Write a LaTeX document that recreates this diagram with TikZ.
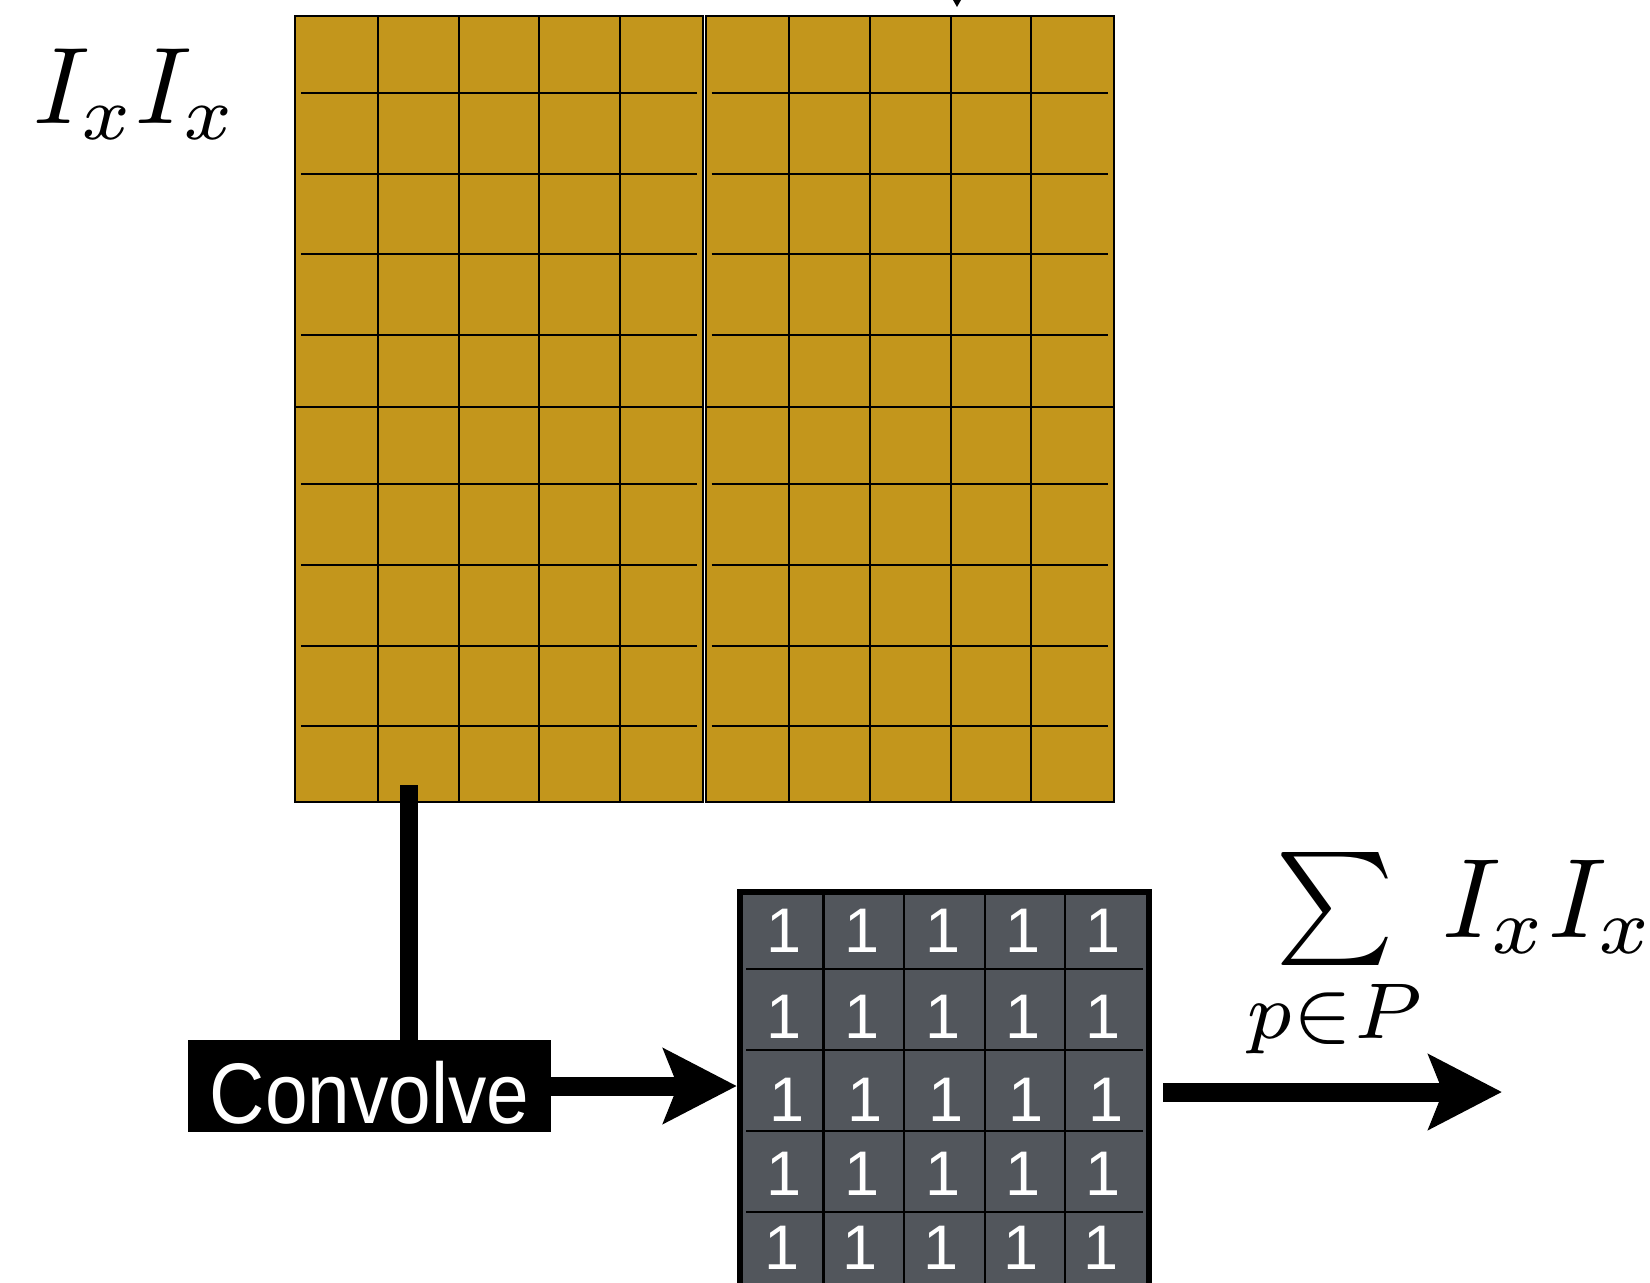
\documentclass[tikz,border=0pt]{standalone}
\usepackage{fontspec}
\newfontfamily\lib{Liberation Sans}
\usetikzlibrary{arrows.meta,calc}
\definecolor{gold}{RGB}{195,150,28}
\definecolor{kgray}{RGB}{82,86,92}
\begin{document}
\begin{tikzpicture}[x=1pt,y=-1pt,
  gridline/.style={line width=2pt, draw=black},
  kline/.style={line width=2.5pt, draw=black},
  bigarrow/.style={line width=19pt, -{Stealth[length=73pt,width=74pt,inset=14pt]}},
  onestyle/.style={anchor=base, inner sep=0pt, text=white, font={\lib\fontsize{63}{63}\selectfont}},
  mathlbl/.style={anchor=base west, inner sep=0pt},
]
\useasboundingbox (0,0) rectangle (1650,1283);

% big image grid (four 5x5 blocks)
\node[inner sep=0pt, minimum width=819pt, minimum height=787pt] (img) at (704.5,409) {};
\foreach \xa/\xb/\cols in {295/703.3/{378.3,459,539.3,620.3}, 705.7/1114/{789,870,951,1031}}{
  \foreach \ya/\yb/\rows in {15.7/407.3/{93.3,173.7,254.3,335}, 406.7/802.3/{484.3,565,645.7,726.3}}{
    \fill[gold] (\xa,\ya) rectangle (\xb,\yb);
    \foreach \c in \cols { \draw[gridline] (\c,\ya) -- (\c,\yb); }
    \foreach \r in \rows { \draw[gridline] (\xa+6,\r) -- (\xb-6,\r); }
    \draw[gridline] (\xa,\ya) rectangle (\xb,\yb);
  }
}

% small arrow tip at the top
\fill (953,0) -- (961,0) -- (957,7) -- cycle;

% left label
\node[mathlbl] (lbl) at (33,123) {\scalebox{10.9}{$I_xI_x$}};

% kernel
\node[fill=kgray, inner sep=0pt, minimum width=415pt, minimum height=406pt] (kernel) at (944.5,1092) {};
\foreach \c in {823.3,904,985,1065} { \draw[kline] (\c,889) -- (\c,1295); }
\foreach \r in {969,1050,1131,1212} { \draw[kline] (746,\r) -- (1143,\r); }
\draw[line width=6pt] ($(kernel.north west)+(3,3)$) rectangle ($(kernel.south east)+(-3,-3)$);
\foreach \yb/\dx [count=\i] in {952.7/0, 1038/0, 1121.7/3, 1195/0, 1269/-2}{
  \foreach \cx [count=\j] in {782,860,941,1021,1101}{
    \node[onestyle] (one\i\j) at (\cx+\dx+2,\yb) {1};
  }
}

% convolve box
\node[fill=black, inner sep=0pt, text width=363pt, align=center, text height=83pt, text depth=9pt,
      text=white, font={\lib\fontsize{86}{90}\selectfont}] (conv) at (369.5,1086) {\scalebox{0.89}[1]{Convolve}};

% bar from image to convolve
\coordinate (tap) at (409,785);
\draw[line width=18pt] (tap) -- (tap |- conv.north);

% arrows
\draw[bigarrow] (conv.east) -- (conv.east -| kernel.west);
\coordinate (res) at (1502,1092);
\draw[bigarrow, shorten <=11pt] (kernel.east) -- (res);

% sum label
\node[mathlbl] (sumlbl) at (1246,937) {\scalebox{11.3}{$\sum\limits_{p\in P} I_xI_x$}};
\end{tikzpicture}
\end{document}
